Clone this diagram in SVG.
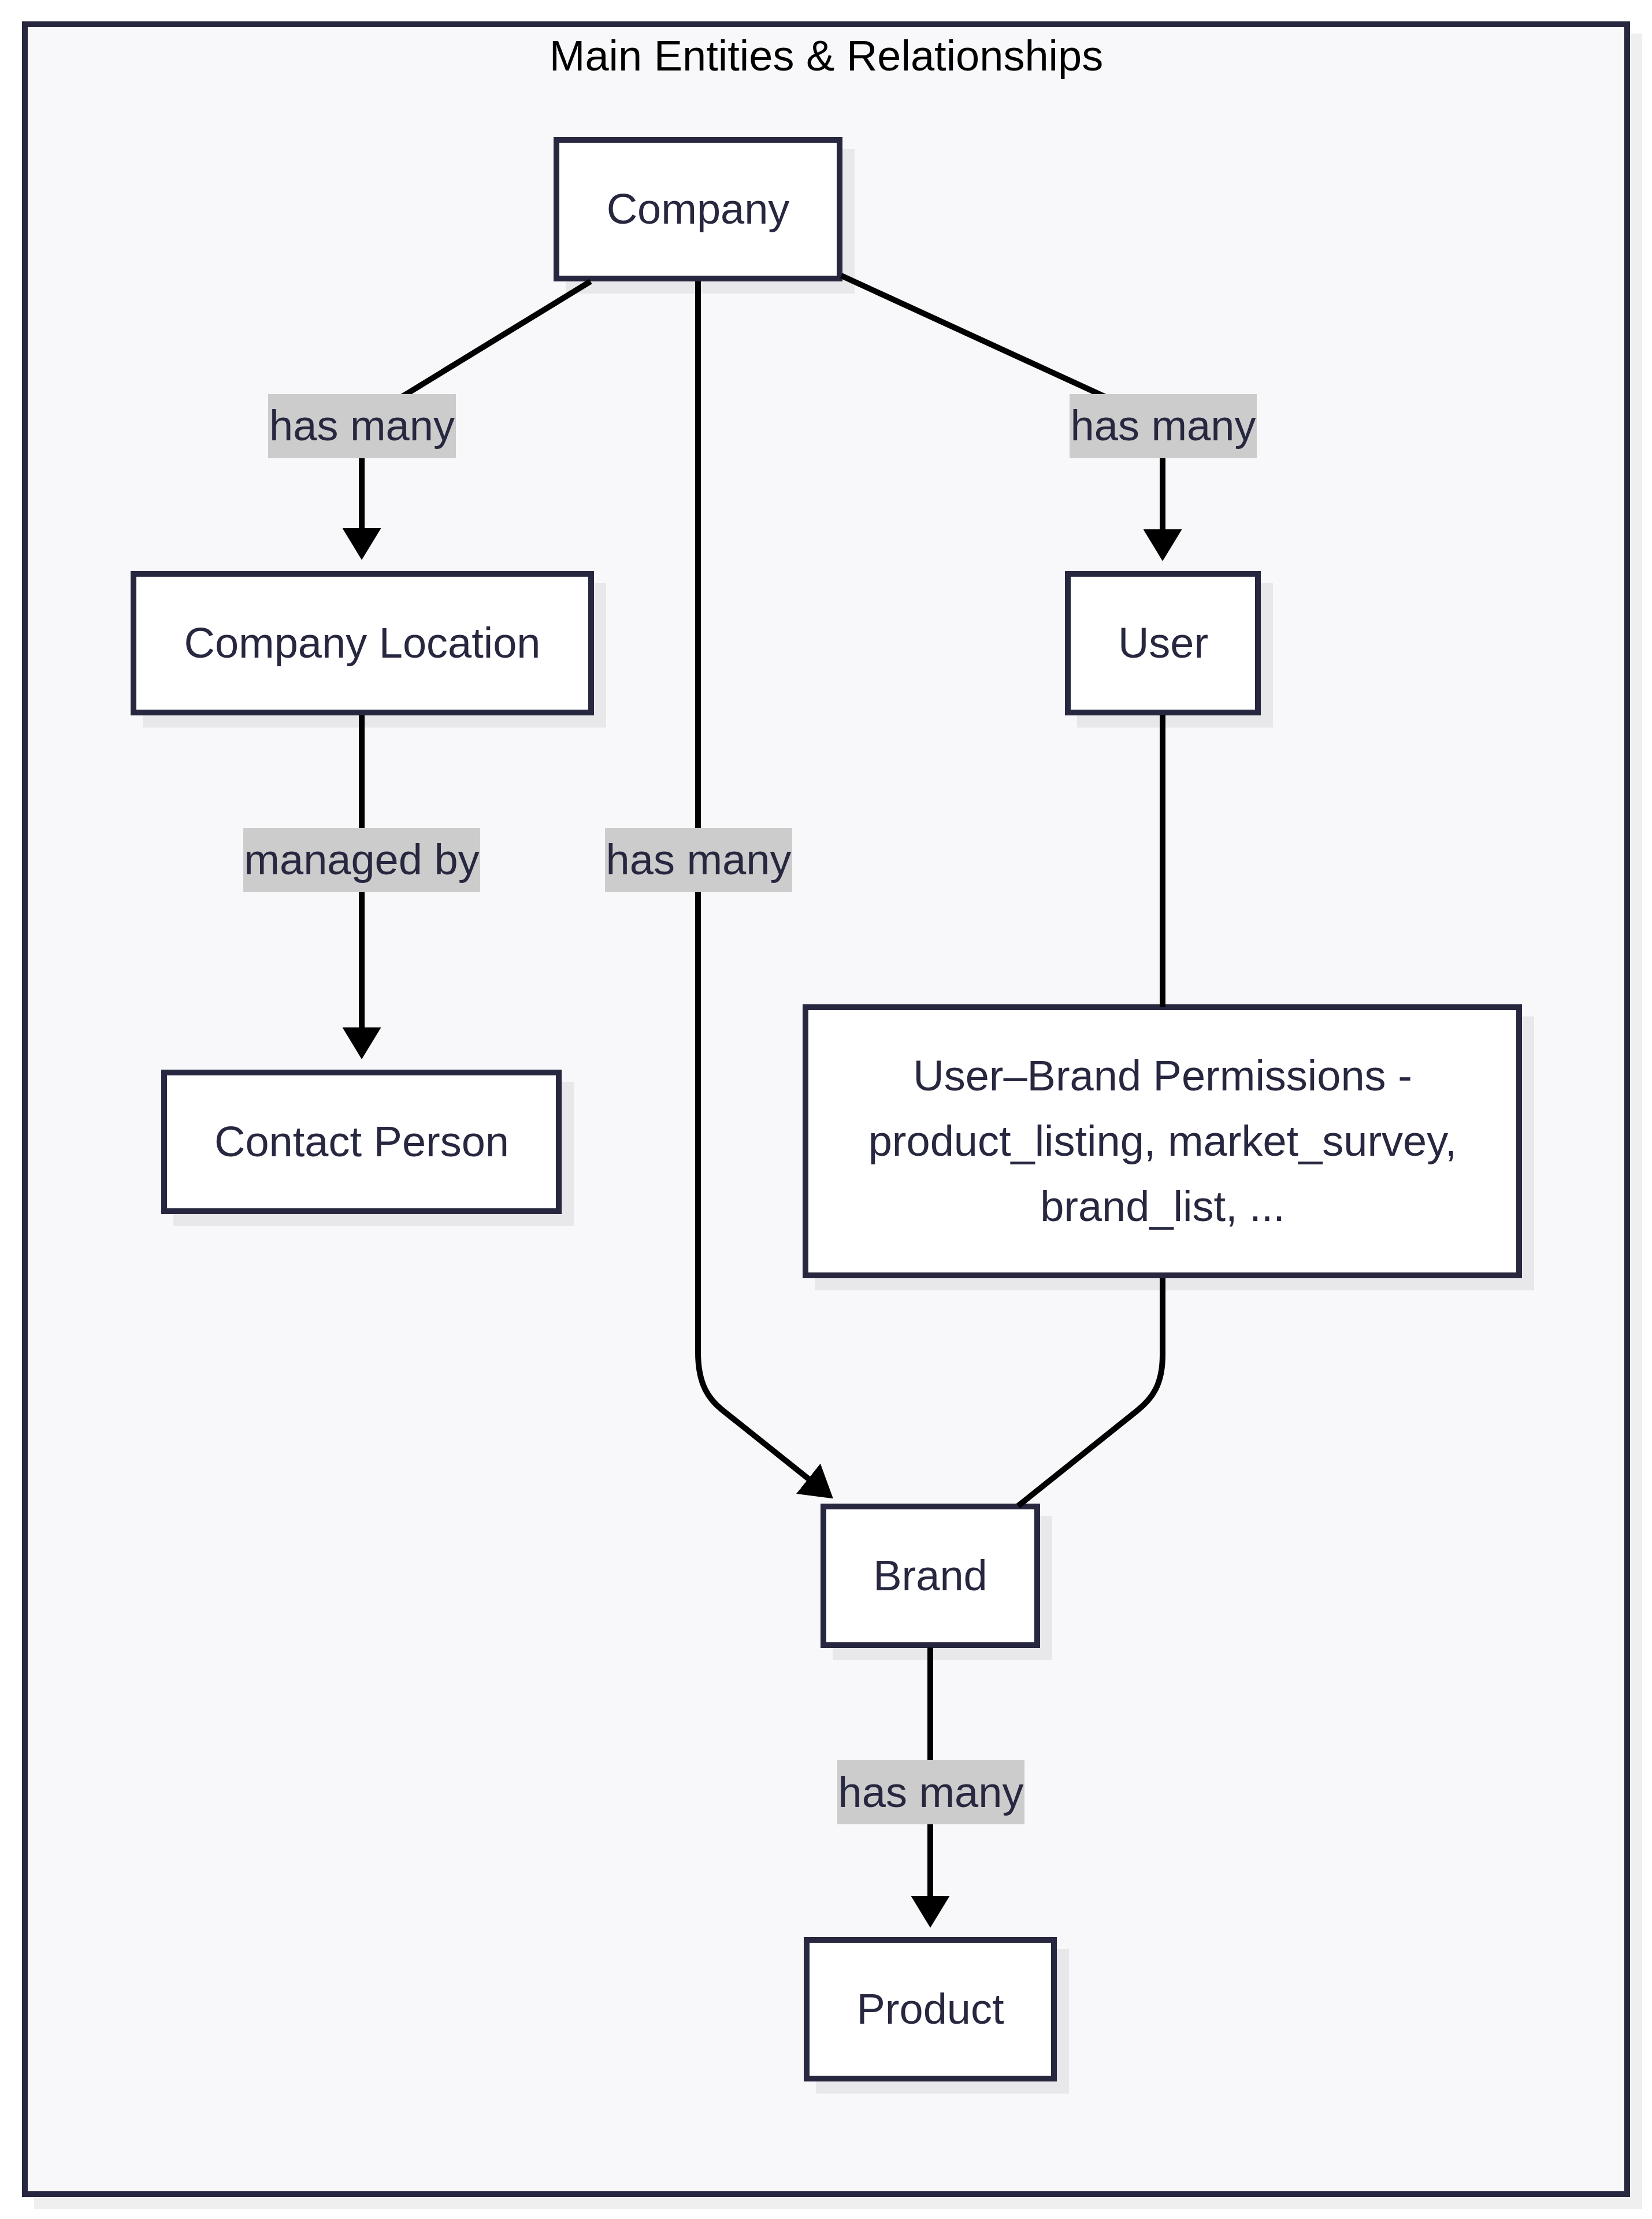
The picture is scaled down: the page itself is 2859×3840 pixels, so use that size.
<svg xmlns="http://www.w3.org/2000/svg" width="2859" height="3840" viewBox="0 0 2859 3840">
  <style>
    .shadow { fill: #e8e8eb; stroke: none; }
    .box { fill: #ffffff; stroke: #272740; stroke-width: 10; }
    .ntext { font-family: "Liberation Sans", Arial, sans-serif; font-size: 74px; fill: #272740; text-anchor: middle; }
    .edge { fill: none; stroke: #000000; stroke-width: 10; }
    .lbg { fill: #cccccc; stroke: none; }
    .ltext { font-family: "Liberation Sans", Arial, sans-serif; font-size: 74px; fill: #272740; text-anchor: middle; }
    .title { font-family: "Liberation Sans", Arial, sans-serif; font-size: 74px; fill: #000000; text-anchor: middle; }
  </style>
  <defs>
    <marker id="arrow" viewBox="0 0 55 67" refX="10" refY="33.5" markerWidth="55" markerHeight="67" markerUnits="userSpaceOnUse" orient="auto">
      <path d="M0,0 L55,33.5 L0,67 z" fill="#000000"/>
    </marker>
  </defs>
  <rect x="0" y="0" width="2859" height="3840" fill="#ffffff"/>

  <g id="frame">
    <rect x="59" y="58" width="2783" height="3765" fill="#efeff0"/>
    <rect x="43" y="42" width="2773" height="3755" fill="#f8f8fa" stroke="#272740" stroke-width="10"/>
    <text class="title" x="1430" y="122">Main Entities &amp; Relationships</text>
  </g>

  <g id="node-company">
    <rect class="shadow" x="979" y="258" width="500" height="250"/>
    <rect class="box" x="963" y="242" width="490" height="240"/>
    <text class="ntext" x="1208" y="387">Company</text>
  </g>

  <g id="node-company-location">
    <rect class="shadow" x="247" y="1009" width="802" height="250"/>
    <rect class="box" x="231" y="993" width="792" height="240"/>
    <text class="ntext" x="627" y="1138">Company Location</text>
  </g>

  <g id="node-contact-person">
    <rect class="shadow" x="300" y="1872" width="693" height="250"/>
    <rect class="box" x="284" y="1856" width="683" height="240"/>
    <text class="ntext" x="626" y="2001">Contact Person</text>
  </g>

  <g id="node-user">
    <rect class="shadow" x="1864" y="1009" width="339" height="250"/>
    <rect class="box" x="1848" y="993" width="329" height="240"/>
    <text class="ntext" x="2013" y="1138">User</text>
  </g>

  <g id="node-permissions">
    <rect class="shadow" x="1410" y="1759" width="1245" height="474"/>
    <rect class="box" x="1394" y="1743" width="1235" height="464"/>
    <text class="ntext" x="2012" y="1887">User–Brand Permissions -</text>
    <text class="ntext" x="2012" y="2000">product_listing, market_survey,</text>
    <text class="ntext" x="2012" y="2113">brand_list, ...</text>
  </g>

  <g id="node-brand">
    <rect class="shadow" x="1441" y="2623" width="380" height="250"/>
    <rect class="box" x="1425" y="2607" width="370" height="240"/>
    <text class="ntext" x="1610" y="2752">Brand</text>
  </g>

  <g id="node-product">
    <rect class="shadow" x="1412" y="3373" width="438" height="250"/>
    <rect class="box" x="1396" y="3357" width="428" height="240"/>
    <text class="ntext" x="1610" y="3502">Product</text>
  </g>

  <g id="connectors">
    <path class="edge" d="M1022,487 L690,690 Q626,730 626,790 L626,924" marker-end="url(#arrow)"/>
    <path class="edge" d="M1456,477 L1920,690 Q2012,733 2012,790 L2012,926" marker-end="url(#arrow)"/>
    <path class="edge" d="M1208,487 L1208,2340 C1208,2395 1226,2421 1250,2440 L1406.7,2565.1" marker-end="url(#arrow)"/>
    <path class="edge" d="M626,1238 L626,1788" marker-end="url(#arrow)"/>
    <path class="edge" d="M2012,1237 L2012,1743"/>
    <path class="edge" d="M2012,2212 L2012,2345 C2012,2395 1995,2420 1967,2442 L1762,2606"/>
    <path class="edge" d="M1610,2851 L1610,3291" marker-end="url(#arrow)"/>

    <g id="label-company-location">
      <rect class="lbg" x="464" y="682" width="325" height="111"/>
      <text class="ltext" x="626.5" y="762">has many</text>
    </g>
    <g id="label-user">
      <rect class="lbg" x="1851" y="682" width="324" height="111"/>
      <text class="ltext" x="2013" y="762">has many</text>
    </g>
    <g id="label-brand">
      <rect class="lbg" x="1047" y="1433" width="324" height="111"/>
      <text class="ltext" x="1209" y="1513">has many</text>
    </g>
    <g id="label-contact">
      <rect class="lbg" x="421" y="1433" width="410" height="111"/>
      <text class="ltext" x="626" y="1513">managed by</text>
    </g>
    <g id="label-product">
      <rect class="lbg" x="1449" y="3046" width="324" height="111"/>
      <text class="ltext" x="1611" y="3127">has many</text>
    </g>
  </g>
</svg>
